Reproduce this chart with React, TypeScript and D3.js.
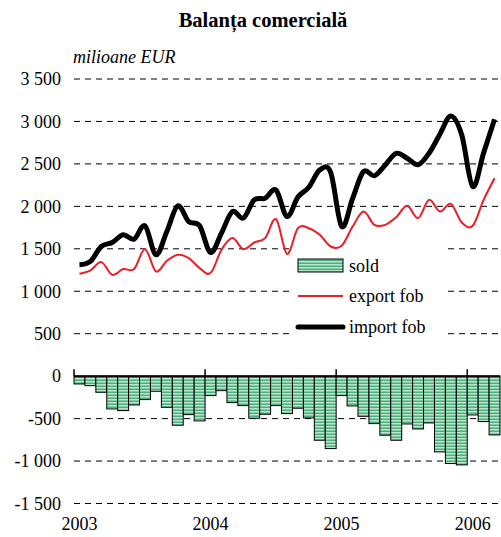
import React from "react";
import * as d3 from "d3";

// monthly, Jan 2003 .. Mar 2006
const months = d3.range(39).map((i) => new Date(2003, i, 1));

const exportFob = [
  1206, 1245, 1343, 1194, 1261, 1261, 1496, 1233, 1359, 1429, 1390, 1273,
  1214, 1488, 1626, 1496, 1574, 1626, 1849, 1441, 1743, 1743, 1665, 1527,
  1535, 1760, 1939, 1782, 1782, 1873, 2006, 1861, 2076, 1939, 2029, 1810,
  1771, 2076, 2331,
];

const importFob = [
  1312, 1351, 1527, 1574, 1665, 1614, 1771, 1429, 1704, 2006, 1821, 1771,
  1457, 1685, 1939, 1861, 2076, 2096, 2190, 1880, 2110, 2225, 2429, 2400,
  1763, 2090, 2410, 2360, 2488, 2625, 2567, 2490, 2625, 2850, 3065, 2840,
  2233, 2630, 3025,
];

const sold = [
  -92, -112, -190, -386, -406, -339, -276, -178, -367, -578, -453, -527,
  -229, -171, -312, -347, -496, -449, -347, -441, -378, -492, -755, -853,
  -229, -351, -473, -559, -696, -755, -563, -622, -551, -892, -1029, -1045,
  -457, -535, -692,
];

const yTicks = [3500, 3000, 2500, 2000, 1500, 1000, 500, 0, -500, -1000, -1500];
const years = [2003, 2004, 2005, 2006];

const W = 501;
const H = 537;
const left = 74;
const right = 500;
const font = "'Liberation Serif', 'Times New Roman', serif";

export default function App() {
  const x = d3
    .scaleBand<number>()
    .domain(d3.range(months.length))
    .range([left, right])
    .padding(0);
  const bw = x.bandwidth();
  const y = d3.scaleLinear().domain([-1500, 3500]).range([503.5, 79]);

  const line = d3
    .line<number>()
    .x((_, i) => (x(i) as number) + bw / 2)
    .y((d) => y(d))
    .curve(d3.curveCardinal.tension(0));

  // "3 500", "-1 000" — space for thousands, plain hyphen
  const fmt = (v: number) =>
    d3.format(",")(v).replace(/,/g, " ").replace("\u2212", "-");
  const yearX = (yr: number) => x((yr - 2003) * 12) ?? right;

  return (
    <svg width={W} height={H} style={{ position: "absolute", left: 0, top: 0 }}>
      <defs>
        <pattern id="stripes" width="4" height="3" patternUnits="userSpaceOnUse">
          <rect width="4" height="3" fill="#b8e6cb" />
          <rect y="1.5" width="4" height="1.5" fill="#4fae80" />
        </pattern>
      </defs>
      <rect width={W} height={H} fill="#fff" />
      <text x={263} y={27} textAnchor="middle" fontFamily={font} fontWeight="bold" fontSize={20.5}>
        Balanța comercială
      </text>
      <text x={73} y={63} fontFamily={font} fontStyle="italic" fontSize={18}>
        milioane EUR
      </text>

      {/* grid + y labels */}
      {yTicks.map((t) => (
        <g key={t}>
          {t !== 0 && (
            <line x1={left} x2={right} y1={y(t)} y2={y(t)} stroke="#000" strokeWidth={1} strokeDasharray="6,5" />
          )}
          <text x={61} y={y(t)} dy="0.35em" textAnchor="end" fontFamily={font} fontSize={18}>
            {fmt(t)}
          </text>
        </g>
      ))}

      {/* bars */}
      {sold.map((v, i) => (
        <rect
          key={i}
          x={x(i)}
          y={y(0)}
          width={bw}
          height={y(v) - y(0)}
          fill="url(#stripes)"
          stroke="#000"
          strokeWidth={1}
        />
      ))}

      {/* zero axis */}
      <line x1={left} x2={right} y1={y(0)} y2={y(0)} stroke="#000" strokeWidth={2} />
      {years.map((yr) => (
        <line key={yr} x1={yearX(yr)} x2={yearX(yr)} y1={y(0)} y2={y(0) - 7} stroke="#000" strokeWidth={1.5} />
      ))}
      {years.map((yr) => (
        <text
          key={"l" + yr}
          x={yearX(yr) + bw / 2}
          y={530}
          textAnchor="middle"
          fontFamily={font}
          fontSize={18}
        >
          {yr}
        </text>
      ))}

      {/* legend box */}
      <rect x={289} y={244} width={157} height={101} fill="#fff" />

      <path d={line(exportFob) ?? ""} fill="none" stroke="#ee1c25" strokeWidth={2} />
      <path d={line(importFob) ?? ""} fill="none" stroke="#000" strokeWidth={5} strokeLinejoin="round" />

      {/* legend */}
      <rect x={298} y={259} width={45} height={13} fill="url(#stripes)" stroke="#000" strokeWidth={1} />
      <text x={349} y={272} fontFamily={font} fontSize={18}>sold</text>
      <line x1={298} x2={343} y1={296} y2={296} stroke="#ee1c25" strokeWidth={2} />
      <text x={349} y={302} fontFamily={font} fontSize={18}>export fob</text>
      <line x1={298} x2={343} y1={327} y2={327} stroke="#000" strokeWidth={5} strokeLinecap="round" />
      <text x={349} y={333} fontFamily={font} fontSize={18}>import fob</text>
    </svg>
  );
}
